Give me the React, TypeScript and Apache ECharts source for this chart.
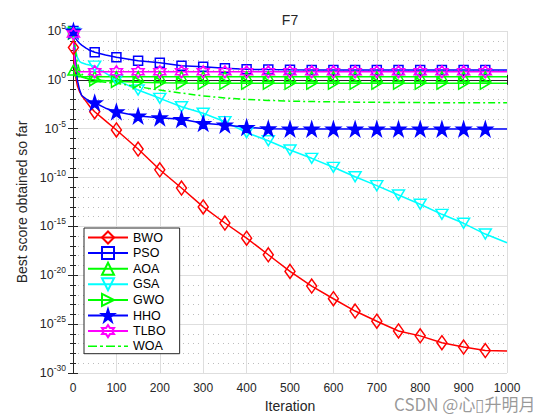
import React, { useEffect, useRef } from 'react';
import * as echarts from 'echarts';

// Iterations at which values were read (markers at 1 and every 50 up to 950)
const iterations = [1, 3, 6, 10, 15, 20, 30, 40, 50, 75, 100, 150, 200, 250, 300, 350, 400, 450, 500, 550, 600, 650, 700, 750, 800, 850, 900, 950, 1000];

// log10(best score so far)
const bwoLog = [3.3, 1.5, 0.3, -0.6, -1.2, -1.6, -2.2, -2.8, -3.26, -4.2, -5.13, -7.08, -9.2, -11.07, -13.0, -14.65, -16.2, -17.9, -19.6, -21.1, -22.4, -23.66, -24.7, -25.7, -26.2, -26.9, -27.35, -27.7, -27.75];
const psoLog = [5, 4.6, 4.25, 4.0, 3.75, 3.55, 3.25, 3.0, 2.82, 2.55, 2.31, 1.96, 1.75, 1.45, 1.35, 1.18, 1.08, 1.05, 1.03, 1.02, 1.01, 1.01, 1.0, 1.0, 1.0, 1.0, 1.0, 1.0, 1.0];
const aoaLog = [1.0, 0.5, 0.35, 0.33, 0.32, 0.32, 0.32, 0.32, 0.32, 0.32, 0.32, 0.32, 0.32, 0.32, 0.32, 0.32, 0.32, 0.32, 0.32, 0.32, 0.32, 0.32, 0.32, 0.32, 0.32, 0.32, 0.32, 0.32, 0.32];
const gsaLog = [4.8, 4.0, 3.0, 2.3, 1.9, 1.75, 1.6, 1.5, 1.4, 0.7, 0.0, -1.04, -1.89, -2.75, -3.42, -4.28, -5.4, -6.23, -7.18, -8.03, -8.95, -9.91, -10.83, -11.78, -12.73, -13.76, -14.68, -15.78, -16.67];
const gwoLog = [4.8, 3.5, 2.0, 1.2, 0.6, 0.3, 0.15, 0.05, 0.0, -0.1, -0.15, -0.25, -0.3, -0.33, -0.35, -0.35, -0.35, -0.35, -0.35, -0.35, -0.35, -0.35, -0.35, -0.35, -0.35, -0.35, -0.35, -0.35, -0.35];
const hhoLog = [5.0, 3.5, 1.5, 0.0, -1.0, -1.6, -1.95, -2.2, -2.34, -2.9, -3.26, -3.7, -3.87, -4.04, -4.45, -4.62, -4.86, -5.0, -5.03, -5.03, -5.03, -5.03, -5.03, -5.03, -5.03, -5.03, -5.03, -5.03, -5.03];
const tlboLog = [4.7, 2.5, 0.9, 0.84, 0.83, 0.83, 0.83, 0.83, 0.83, 0.83, 0.83, 0.83, 0.83, 0.83, 0.83, 0.83, 0.83, 0.83, 0.83, 0.83, 0.83, 0.83, 0.83, 0.83, 0.83, 0.83, 0.83, 0.83, 0.83];
const woaLog = [4.6, 4.0, 2.8, 1.8, 1.0, 0.6, 0.2, 0.0, -0.1, -0.25, -0.35, -0.7, -1.05, -1.35, -1.65, -1.85, -2.0, -2.1, -2.18, -2.22, -2.25, -2.28, -2.3, -2.32, -2.33, -2.34, -2.35, -2.35, -2.35];

const seriesNames = ['BWO', 'PSO', 'AOA', 'GSA', 'GWO', 'HHO', 'TLBO', 'WOA'];
const xTicks = { min: 0, max: 1000, interval: 100 };
const yTicks = { min: -30, max: 5, interval: 5 };

const FONT = 'Liberation Sans, Arial, Helvetica, sans-serif';
const TXT = '#262626';

function starPath(n: number, inner: number) {
  const pts: string[] = [];
  for (let k = 0; k < 2 * n; k++) {
    const r = k % 2 === 0 ? 1 : inner;
    const a = -Math.PI / 2 + (k * Math.PI) / n;
    pts.push(`${(r * Math.cos(a)).toFixed(3)} ${(r * Math.sin(a)).toFixed(3)}`);
  }
  return 'path://M' + pts.join(' L') + ' Z';
}

const SYM_PENTA = starPath(5, 0.382);
const SYM_HEXA = starPath(6, 0.577);
const SYM_DOWN = 'path://M0 0 L10 0 L5 9 Z';
const SYM_RIGHT = 'path://M0 0 L9 5 L0 10 Z';
const SYM_UP = 'path://M5 0 L10 9 L0 9 Z';
const DASHDOT_ICON = 'path://M0 0 H9 V1.6 H0 Z M12 0 H15 V1.6 H12 Z M18 0 H27 V1.6 H18 Z M30 0 H33 V1.6 H30 Z M36 0 H40 V1.6 H36 Z';

const isMarker = (it: number) => it === 1 || (it % 50 === 0 && it < 1000);

function makeSeries(name: string, vals: number[], color: string, symbol: string, size: any, filled = false, lineType: any = 'solid') {
  return {
    type: 'line',
    name,
    data: iterations.map((it, i) => ({ value: [it, vals[i]], symbol: isMarker(it) && symbol !== 'none' ? symbol : 'none' })),
    symbol,
    symbolSize: size,
    showSymbol: true,
    showAllSymbol: true,
    silent: true,
    lineStyle: { color, width: 1.5, type: lineType },
    itemStyle: {
      color: filled ? color : 'rgba(255,255,255,0)',
      borderColor: color,
      borderWidth: symbol === 'none' ? 0 : 1.5,
    },
    emphasis: { disabled: true },
  };
}

export default function App() {
  const ref = useRef<HTMLDivElement>(null);
  useEffect(() => {
    if (!ref.current) return;
    const chart = echarts.init(ref.current, undefined, { renderer: 'svg' });
    const woa = makeSeries('WOA', woaLog, '#00ff00', 'none', 0, true, [7, 3, 2, 3]);
    (woa.itemStyle as any).color = '#00ff00';
    const option: any = {
      animation: false,
      backgroundColor: '#ffffff',
      textStyle: { fontFamily: FONT },
      grid: { left: 73, right: 53, top: 31, bottom: 47, containLabel: false },
      legend: {
        orient: 'vertical',
        left: 84,
        top: 228,
        itemWidth: 40,
        itemHeight: 15,
        itemGap: 1.6,
        padding: [2.5, 14, 1, 3],
        backgroundColor: '#ffffff',
        borderColor: TXT,
        borderWidth: 1,
        borderRadius: 0,
        selectedMode: false,
        textStyle: { fontSize: 12.5, color: '#000', fontFamily: FONT },
        data: [
          ...seriesNames.slice(0, 7),
          { name: 'WOA', icon: DASHDOT_ICON },
        ],
      },
      xAxis: [
        {
          type: 'value',
          min: xTicks.min,
          max: xTicks.max,
          interval: xTicks.interval,
          name: 'Iteration',
          nameLocation: 'middle',
          nameGap: 26,
          nameTextStyle: { fontSize: 14, color: TXT, fontFamily: FONT },
          axisLine: { show: true, lineStyle: { color: TXT, width: 1 } },
          axisTick: { show: true, inside: true, length: 5, lineStyle: { color: TXT } },
          axisLabel: { fontSize: 12, color: TXT, margin: 9, fontFamily: FONT, formatter: (v: number) => String(v) },
          splitLine: { show: true, lineStyle: { color: '#dedede', width: 1 } },
        },
        {
          type: 'value',
          position: 'top',
          min: xTicks.min,
          max: xTicks.max,
          interval: xTicks.interval,
          axisLine: { show: true, lineStyle: { color: TXT, width: 1 } },
          axisTick: { show: true, inside: true, length: 5, lineStyle: { color: TXT } },
          axisLabel: { show: false },
          splitLine: { show: false },
        },
      ],
      yAxis: [
        {
          type: 'value',
          min: yTicks.min,
          max: yTicks.max,
          interval: yTicks.interval,
          name: 'Best score obtained so far',
          nameLocation: 'middle',
          nameGap: 41,
          nameTextStyle: { fontSize: 14, color: TXT, fontFamily: FONT },
          axisLine: { show: true, lineStyle: { color: TXT, width: 1 } },
          axisTick: { show: true, inside: true, length: 5, lineStyle: { color: TXT } },
          minorTick: { show: true, splitNumber: 5, length: 3, lineStyle: { color: TXT } },
          axisLabel: {
            margin: 7,
            color: TXT,
            formatter: (v: number) => `{b|10}{s|${v}}`,
            rich: {
              b: { fontSize: 12.5, color: TXT, fontFamily: FONT },
              s: { fontSize: 8.5, color: TXT, fontFamily: FONT, padding: [0, 0, 10, 0] },
            },
          },
          splitLine: { show: true, lineStyle: { color: '#dedede', width: 1 } },
          minorSplitLine: { show: true, lineStyle: { color: '#bdbdbd', width: 1, type: [1, 4] } },
        },
        {
          type: 'value',
          position: 'right',
          min: yTicks.min,
          max: yTicks.max,
          interval: yTicks.interval,
          axisLine: { show: true, lineStyle: { color: TXT, width: 1 } },
          axisTick: { show: true, inside: true, length: 5, lineStyle: { color: TXT } },
          minorTick: { show: true, splitNumber: 5, length: 3, lineStyle: { color: TXT } },
          axisLabel: { show: false },
          splitLine: { show: false },
        },
      ],
      series: [
        makeSeries('BWO', bwoLog, '#ff0000', 'diamond', [10, 14]),
        makeSeries('PSO', psoLog, '#0000ff', 'rect', 9),
        makeSeries('AOA', aoaLog, '#00ff00', SYM_UP, [11, 10]),
        makeSeries('GSA', gsaLog, '#00ffff', SYM_DOWN, [12, 10]),
        makeSeries('GWO', gwoLog, '#00ff00', SYM_RIGHT, [10, 12]),
        makeSeries('HHO', hhoLog, '#0000ff', SYM_PENTA, 14, true),
        makeSeries('TLBO', tlboLog, '#ff00ff', SYM_HEXA, 12),
        woa,
      ],
      graphic: [
        {
          type: 'text',
          x: 290,
          y: 20,
          style: { text: 'F7', fontSize: 14, fill: TXT, fontFamily: FONT, align: 'center', verticalAlign: 'middle', textAlign: 'center', textVerticalAlign: 'middle' },
        },
        {
          type: 'text',
          x: 394,
          y: 403,
          z: 100,
          style: {
            text: 'CSDN @心▯升明月',
            fontSize: 17,
            fill: 'rgba(120,120,120,0.75)',
            fontFamily: 'Noto Sans CJK SC, Noto Sans, sans-serif',
            align: 'left',
            verticalAlign: 'middle',
            textAlign: 'left',
            textVerticalAlign: 'middle',
          },
        },
      ],
    };
    chart.setOption(option);
    return () => chart.dispose();
  }, []);
  return <div ref={ref} style={{ position: 'fixed', left: 0, top: 0, width: 560, height: 420 }} />;
}
